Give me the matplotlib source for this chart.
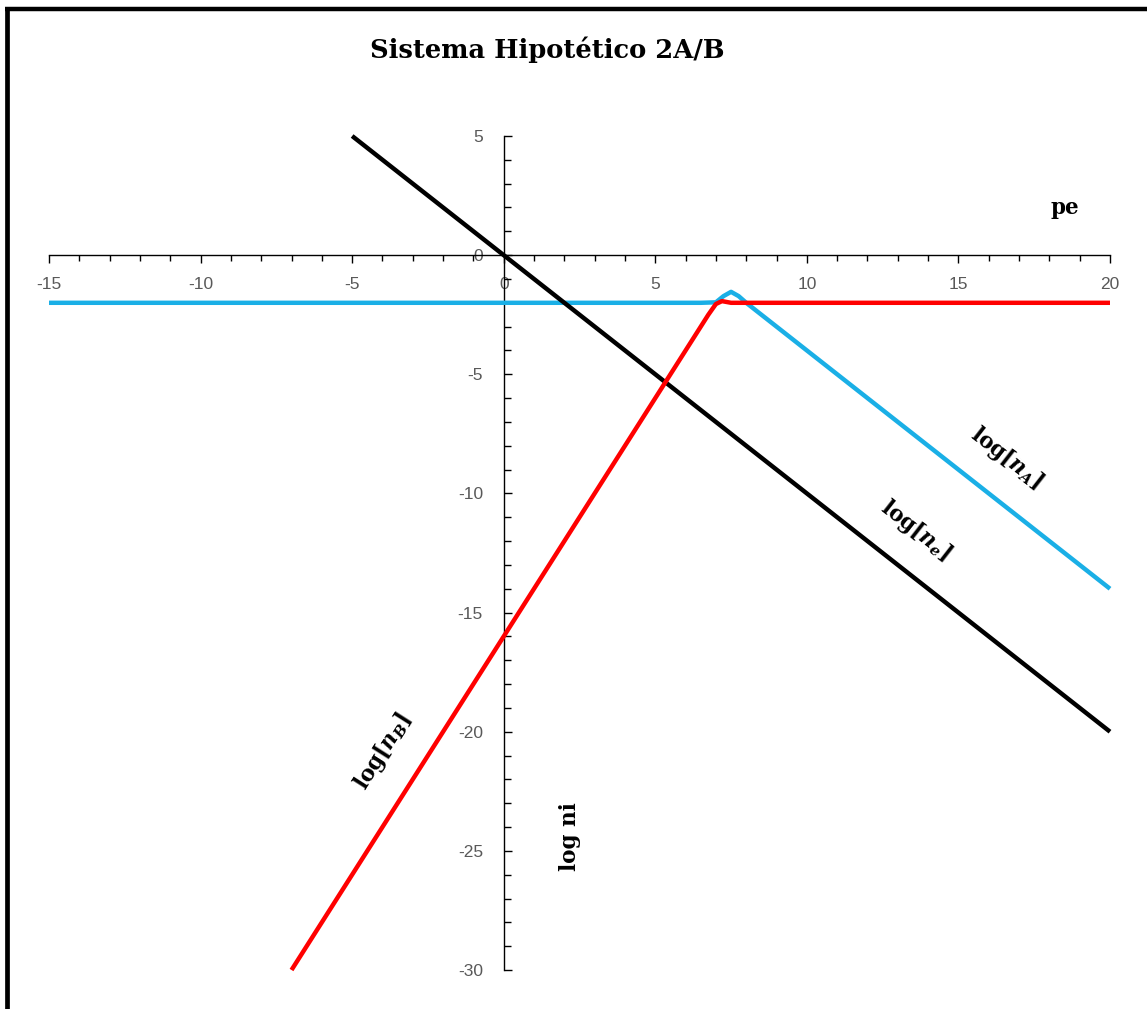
import matplotlib
matplotlib.use("Agg")
import matplotlib.pyplot as plt
from matplotlib.lines import Line2D
from matplotlib.ticker import MultipleLocator

# ---- data ----
pe_e = [-5, 0, 20]
log_ne = [5, 0, -20]

pe_A = [-15, 0, 6.5, 7.0, 7.25, 7.5, 7.75, 8.0, 20]
log_nA = [-2, -2, -2, -1.98, -1.72, -1.54, -1.72, -2.0, -14]

pe_B = [-7, 0, 6.75, 7.0, 7.2, 7.5, 20]
log_nB = [-30, -16, -2.5, -2.05, -1.93, -2.0, -2.0]

x_ticks = [-15, -10, -5, 0, 5, 10, 15, 20]
y_ticks = [-30, -25, -20, -15, -10, -5, 0, 5]

title = "Sistema Hipotético 2A/B"

plt.rcParams['axes.unicode_minus'] = False
plt.rcParams['mathtext.fontset'] = 'custom'
plt.rcParams['mathtext.rm'] = 'DejaVu Serif:bold'
plt.rcParams['mathtext.bf'] = 'DejaVu Serif:bold'
plt.rcParams['mathtext.it'] = 'DejaVu Serif:italic:bold'

W, H = 1147, 1009
fig = plt.figure(figsize=(W / 100, H / 100), dpi=100)
ax = fig.add_axes([49 / W, 1 - 970 / H, (1110 - 49) / W, (970 - 136) / H])
ax.set_xlim(-15, 20)
ax.set_ylim(-30, 5)

lw = 3.2
ax.plot(pe_A, log_nA, color='#1AAFE6', lw=lw, solid_joinstyle='round', solid_capstyle='butt', zorder=3, clip_on=False)
ax.plot(pe_e, log_ne, color='black', lw=lw, solid_joinstyle='round', solid_capstyle='butt', zorder=4, clip_on=False)
ax.plot(pe_B, log_nB, color='#FF0000', lw=lw, solid_joinstyle='round', solid_capstyle='butt', zorder=5, clip_on=False)

for s in ['top', 'right']:
    ax.spines[s].set_visible(False)
ax.spines['left'].set_position(('data', 0))
ax.spines['bottom'].set_position(('data', 0))
for s in ['left', 'bottom']:
    ax.spines[s].set_linewidth(1.0)
    ax.spines[s].set_zorder(2)

ax.set_xticks(x_ticks)
ax.set_yticks(y_ticks)
ax.xaxis.set_minor_locator(MultipleLocator(1))
ax.yaxis.set_minor_locator(MultipleLocator(1))
ax.tick_params(axis='x', which='major', direction='out', length=6, width=1.0, pad=10,
               labelsize=12.5, labelcolor='#595959')
ax.tick_params(axis='x', which='minor', direction='out', length=4, width=1.0)
ax.tick_params(axis='y', which='major', direction='in', length=6, width=1.0, pad=15,
               labelsize=12.5, labelcolor='#595959')
ax.tick_params(axis='y', which='minor', direction='in', length=5, width=1.0)
for lab in ax.get_xticklabels() + ax.get_yticklabels():
    lab.set_fontfamily('Liberation Sans')

ax.set_facecolor('none')

fig.text(547 / W, 1 - 50 / H, title, ha='center', va='center',
         fontfamily='DejaVu Serif', fontweight='bold', fontsize=18.5)

serif = dict(fontfamily='DejaVu Serif', fontweight='bold', color='black')
fig.text(1065 / W, 1 - 208 / H, 'pe', ha='center', va='center', fontsize=15.5, **serif)
fig.text(570 / W, 1 - 837 / H, 'log ni', ha='center', va='center', rotation=90, fontsize=15.5, **serif)
fig.text(1007 / W, 1 - 458 / H, r'$\mathrm{log}[n_{A}]$', ha='center', va='center',
         rotation=-38, rotation_mode='anchor', fontsize=15.5)
fig.text(916 / W, 1 - 530 / H, r'$\mathrm{log}[n_{e}]$', ha='center', va='center',
         rotation=-38, rotation_mode='anchor', fontsize=15.5)
fig.text(383 / W, 1 - 752 / H, r'$\mathrm{log}[n_{B}]$', ha='center', va='center',
         rotation=57.6, rotation_mode='anchor', fontsize=15.5)

# outer frame (top and left edges visible)
fig.add_artist(Line2D([5 / W, 1], [1 - 9 / H, 1 - 9 / H], transform=fig.transFigure,
                      color='black', lw=3.2, solid_capstyle='butt'))
fig.add_artist(Line2D([7.5 / W, 7.5 / W], [0, 1 - 7 / H], transform=fig.transFigure,
                      color='black', lw=3.4, solid_capstyle='butt'))

fig.savefig('out.png', dpi=100)
